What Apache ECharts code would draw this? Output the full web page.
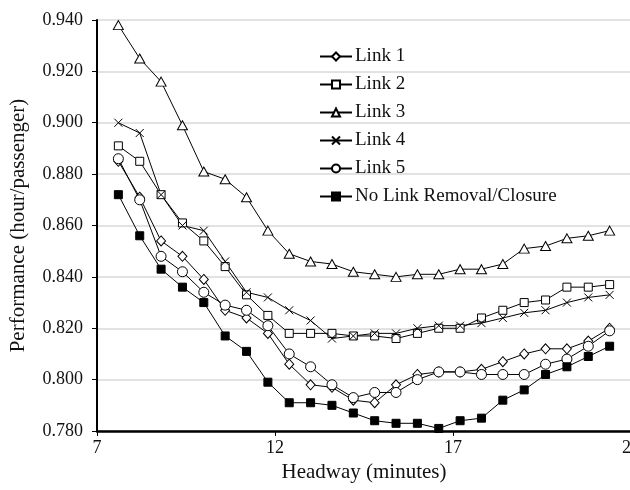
<!DOCTYPE html>
<html>
<head>
<meta charset="utf-8">
<script src="https://cdn.jsdelivr.net/npm/echarts@6/dist/echarts.min.js"></script>
<style>
  html, body { margin: 0; padding: 0; background: #fff; }
  #chart { width: 630px; height: 490px; }
</style>
</head>
<body>
<div id="chart"></div>
<script>
// headway values (minutes)
var headway = [7.6, 8.2, 8.8, 9.4, 10.0, 10.6, 11.2, 11.8, 12.4, 13.0, 13.6, 14.2,
               14.8, 15.4, 16.0, 16.6, 17.2, 17.8, 18.4, 19.0, 19.6, 20.2, 20.8, 21.4];

var link1 = [0.885, 0.871, 0.854, 0.848, 0.839, 0.827, 0.824, 0.818, 0.806, 0.798, 0.797, 0.792,
             0.791, 0.798, 0.802, 0.803, 0.803, 0.804, 0.807, 0.810, 0.812, 0.812, 0.815, 0.820];
var link2 = [0.891, 0.885, 0.872, 0.861, 0.854, 0.844, 0.833, 0.825, 0.818, 0.818, 0.818, 0.817,
             0.817, 0.816, 0.818, 0.820, 0.820, 0.824, 0.827, 0.830, 0.831, 0.836, 0.836, 0.837];
var link3 = [0.938, 0.925, 0.916, 0.899, 0.881, 0.878, 0.871, 0.858, 0.849, 0.846, 0.845, 0.842,
             0.841, 0.840, 0.841, 0.841, 0.843, 0.843, 0.845, 0.851, 0.852, 0.855, 0.856, 0.858];
var link4 = [0.900, 0.896, 0.872, 0.860, 0.858, 0.846, 0.834, 0.832, 0.827, 0.823, 0.816, 0.817,
             0.818, 0.818, 0.820, 0.821, 0.821, 0.822, 0.824, 0.826, 0.827, 0.830, 0.832, 0.833];
var link5 = [0.886, 0.870, 0.848, 0.842, 0.834, 0.829, 0.827, 0.821, 0.810, 0.805, 0.798, 0.793,
             0.795, 0.795, 0.800, 0.803, 0.803, 0.802, 0.802, 0.802, 0.806, 0.808, 0.813, 0.819];
var noLink = [0.872, 0.856, 0.843, 0.836, 0.830, 0.817, 0.811, 0.799, 0.791, 0.791, 0.790, 0.787,
              0.784, 0.783, 0.783, 0.781, 0.784, 0.785, 0.792, 0.796, 0.802, 0.805, 0.809, 0.813];

var names = ['Link 1', 'Link 2', 'Link 3', 'Link 4', 'Link 5', 'No Link Removal/Closure'];

var FONT = 'Liberation Serif';
var crossPath = 'path://M0,0L10,10M10,0L0,10';

function pairs(ys) {
  return headway.map(function (x, i) { return [x, ys[i]]; });
}

function makeSeries(name, ys, symbol, size, filled) {
  return {
    name: name,
    type: 'line',
    data: pairs(ys),
    symbol: symbol,
    symbolSize: size,
    showAllSymbol: true,
    lineStyle: { color: '#000', width: 1 },
    itemStyle: {
      color: filled ? '#000' : '#fff',
      borderColor: '#000',
      borderWidth: 1
    },
    emphasis: { disabled: true },
    animation: false
  };
}

var myChart = echarts.init(document.getElementById('chart'));

var option = {
  animation: false,
  backgroundColor: '#fff',
  textStyle: { fontFamily: FONT },
  grid: { left: 97, top: 20, right: -1, bottom: 59, containLabel: false, outerBoundsMode: 'none' },
  legend: {
    orient: 'vertical',
    left: 314,
    top: 42,
    itemWidth: 32,
    itemHeight: 10,
    itemGap: 9,
    data: names,
    textStyle: { fontFamily: FONT, fontSize: 19, color: '#111', lineHeight: 18, padding: [0, 0, 0, -2] }
  },
  xAxis: {
    type: 'value',
    min: 7,
    max: 22,
    interval: 5,
    name: 'Headway (minutes)',
    nameLocation: 'middle',
    nameGap: 25,
    nameTextStyle: { fontFamily: FONT, fontSize: 21, color: '#111' },
    axisLine: { lineStyle: { color: '#000', width: 2.5 } },
    axisTick: { show: true, length: 5, lineStyle: { color: '#000' } },
    axisLabel: { fontFamily: FONT, fontSize: 18, color: '#111', margin: 8 },
    splitLine: { show: false }
  },
  yAxis: {
    type: 'value',
    min: 0.78,
    max: 0.94,
    interval: 0.02,
    name: 'Performance (hour/passenger)',
    nameLocation: 'middle',
    nameGap: 68,
    nameTextStyle: { fontFamily: FONT, fontSize: 21, color: '#111' },
    axisLine: { show: true, lineStyle: { color: '#000', width: 2 } },
    axisTick: { show: true, length: 5, lineStyle: { color: '#000' } },
    axisLabel: {
      fontFamily: FONT, fontSize: 18, color: '#111', margin: 14,
      formatter: function (v) { return v.toFixed(3); }
    },
    splitLine: { show: true, lineStyle: { color: '#d9d9d9', width: 1.5 } }
  },
  series: [
    makeSeries(names[0], link1, 'diamond', [9, 10], false),
    makeSeries(names[1], link2, 'rect', 8, false),
    makeSeries(names[2], link3, 'triangle', [10, 9], false),
    makeSeries(names[3], link4, crossPath, 8, true),
    makeSeries(names[4], link5, 'circle', 10, false),
    makeSeries(names[5], noLink, 'rect', 8, true)
  ]
};

myChart.setOption(option);
</script>
</body>
</html>
